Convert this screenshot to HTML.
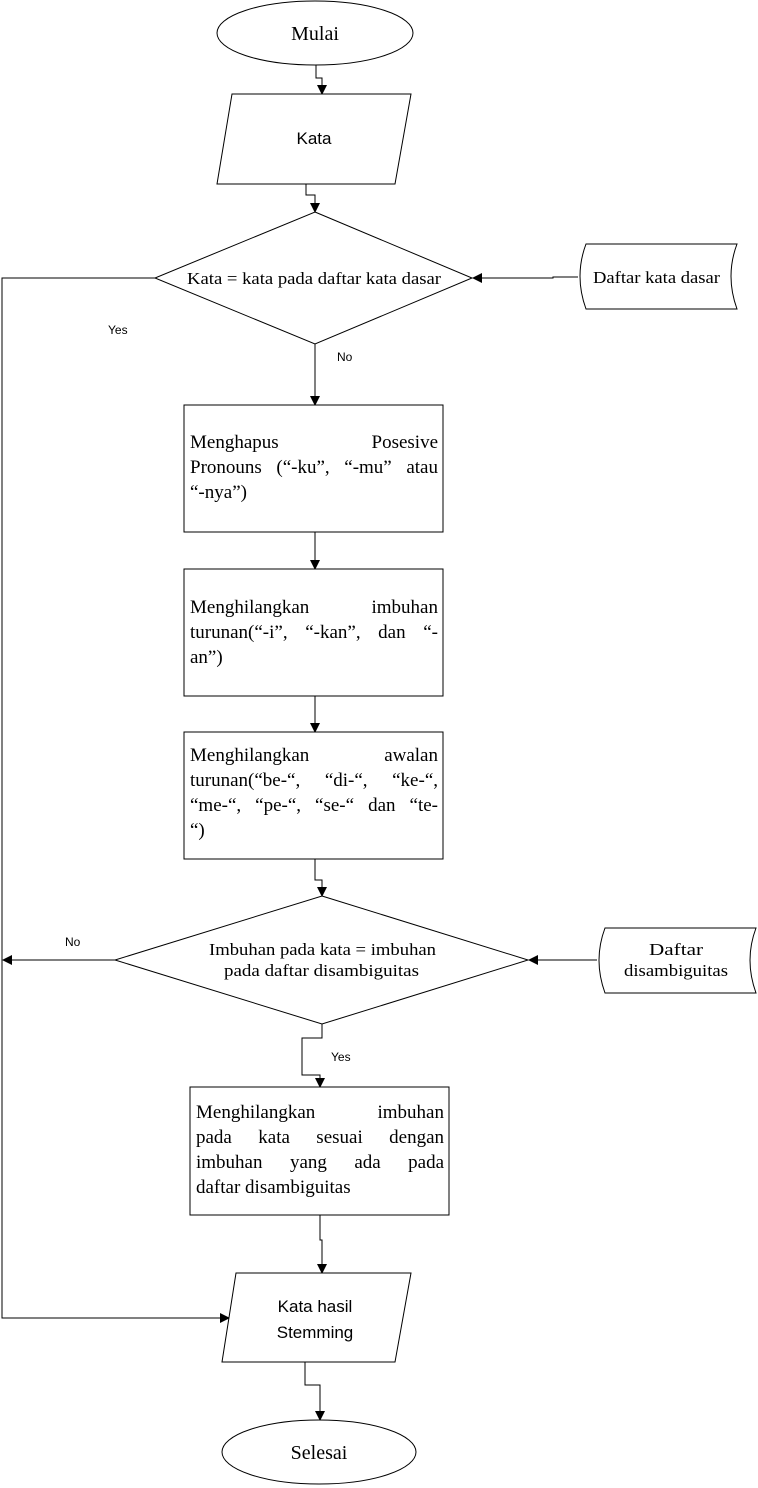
<!DOCTYPE html>
<html><head><meta charset="utf-8"><style>
html,body{margin:0;padding:0;background:#fff;}
svg{display:block;}
.s{font-family:"Liberation Serif",serif;fill:#000;}
.a{font-family:"Liberation Sans",sans-serif;fill:#000;}
.box{position:absolute;font-family:"Liberation Serif",serif;font-size:19px;line-height:25px;}
.box div{text-align:justify;text-align-last:justify;white-space:normal;height:25px;overflow:visible;}
.box div.l{text-align:left;text-align-last:left;}
</style></head><body>
<div style="position:relative;width:758px;height:1488px;">
<svg width="758" height="1488" viewBox="0 0 758 1488" xmlns="http://www.w3.org/2000/svg">
<defs><marker id="ar" markerWidth="10" markerHeight="10" refX="9" refY="5" orient="auto" markerUnits="userSpaceOnUse"><path d="M0,0 L10,5 L0,10 z" fill="#000"/></marker></defs>
<g fill="none" stroke="#000" stroke-width="1">
<ellipse cx="315" cy="33" rx="98" ry="32" fill="#fff"/>
<polyline points="316,65 316,78 322,78 322,94" marker-end="url(#ar)"/>
<polygon points="232,94 411,94 395,184 217,184" fill="#fff"/>
<polyline points="306,184 306,195 315,195 315,212" marker-end="url(#ar)"/>
<polygon points="315,212 472,278 315,344 155,278" fill="#fff"/>
<path d="M586,244 L737,244 Q725,276 737,309 L586,309 Q574,276 586,244 Z" fill="#fff"/>
<polyline points="578,277 553,277 553,278 473,278" marker-end="url(#ar)"/>
<polyline points="155,278 2,278 2,1318 229,1318" marker-end="url(#ar)"/>
<line x1="315" y1="344" x2="315" y2="405" marker-end="url(#ar)"/>
<rect x="184" y="405" width="259" height="127" fill="#fff"/>
<line x1="315" y1="532" x2="315" y2="569" marker-end="url(#ar)"/>
<rect x="184" y="569" width="259" height="127" fill="#fff"/>
<line x1="315" y1="696" x2="315" y2="732" marker-end="url(#ar)"/>
<rect x="184" y="732" width="259" height="127" fill="#fff"/>
<polyline points="315,859 315,880 322,880 322,896" marker-end="url(#ar)"/>
<polygon points="322,896 528,960 322,1024 115,960" fill="#fff"/>
<path d="M605,928 L756,928 Q744,960 756,993 L605,993 Q593,960 605,928 Z" fill="#fff"/>
<line x1="597" y1="960" x2="529" y2="960" marker-end="url(#ar)"/>
<polyline points="115,960 102,960 3,960" marker-end="url(#ar)"/>
<polyline points="322,1024 322,1038 302,1038 302,1075 320,1075 320,1087" marker-end="url(#ar)"/>
<rect x="190" y="1087" width="259" height="128" fill="#fff"/>
<polyline points="320,1215 320,1240 322,1240 322,1273" marker-end="url(#ar)"/>
<polygon points="236,1273 411,1273 395,1362 222,1362" fill="#fff"/>
<polyline points="305,1362 305,1385 320,1385 320,1420" marker-end="url(#ar)"/>
<ellipse cx="319" cy="1452" rx="97" ry="32" fill="#fff"/>
</g>
<text class="s" x="315" y="40" font-size="20" text-anchor="middle">Mulai</text>
<text class="a" x="314" y="144" font-size="17" text-anchor="middle">Kata</text>
<text class="s" x="187" y="284" font-size="17" textLength="254" lengthAdjust="spacingAndGlyphs">Kata = kata pada daftar kata dasar</text>
<text class="s" x="593" y="283" font-size="17" textLength="127" lengthAdjust="spacingAndGlyphs">Daftar kata dasar</text>
<text class="a" x="108" y="334" font-size="12">Yes</text>
<text class="a" x="337" y="361" font-size="12">No</text>
<text class="a" x="65" y="946" font-size="12">No</text>
<text class="s" x="209" y="955" font-size="17" textLength="227" lengthAdjust="spacingAndGlyphs">Imbuhan pada kata = imbuhan</text>
<text class="s" x="224" y="976" font-size="17" textLength="195" lengthAdjust="spacingAndGlyphs">pada daftar disambiguitas</text>
<text class="s" x="649" y="955" font-size="17" textLength="54" lengthAdjust="spacingAndGlyphs">Daftar</text>
<text class="s" x="624" y="976" font-size="17" textLength="104" lengthAdjust="spacingAndGlyphs">disambiguitas</text>
<text class="a" x="331" y="1061" font-size="12">Yes</text>
<text class="a" x="315" y="1312" font-size="17" text-anchor="middle">Kata hasil</text>
<text class="a" x="315" y="1338" font-size="17" text-anchor="middle">Stemming</text>
<text class="s" x="319" y="1459" font-size="20" text-anchor="middle">Selesai</text>
</svg>
<div class="box" style="left:190px;top:430px;width:248px;">
<div>Menghapus Posesive</div>
<div>Pronouns (“-ku”, “-mu” atau</div>
<div class="l">“-nya”)</div>
</div>
<div class="box" style="left:190px;top:595px;width:248px;">
<div>Menghilangkan imbuhan</div>
<div>turunan(“-i”, “-kan”, dan “-</div>
<div class="l">an”)</div>
</div>
<div class="box" style="left:190px;top:743px;width:248px;">
<div>Menghilangkan awalan</div>
<div>turunan(“be-“, “di-“, “ke-“,</div>
<div>“me-“, “pe-“, “se-“ dan “te-</div>
<div class="l">“)</div>
</div>
<div class="box" style="left:196px;top:1100px;width:248px;line-height:25.5px;">
<div>Menghilangkan imbuhan</div>
<div>pada kata sesuai dengan</div>
<div>imbuhan yang ada pada</div>
<div class="l">daftar disambiguitas</div>
</div>
</div>
</body></html>
